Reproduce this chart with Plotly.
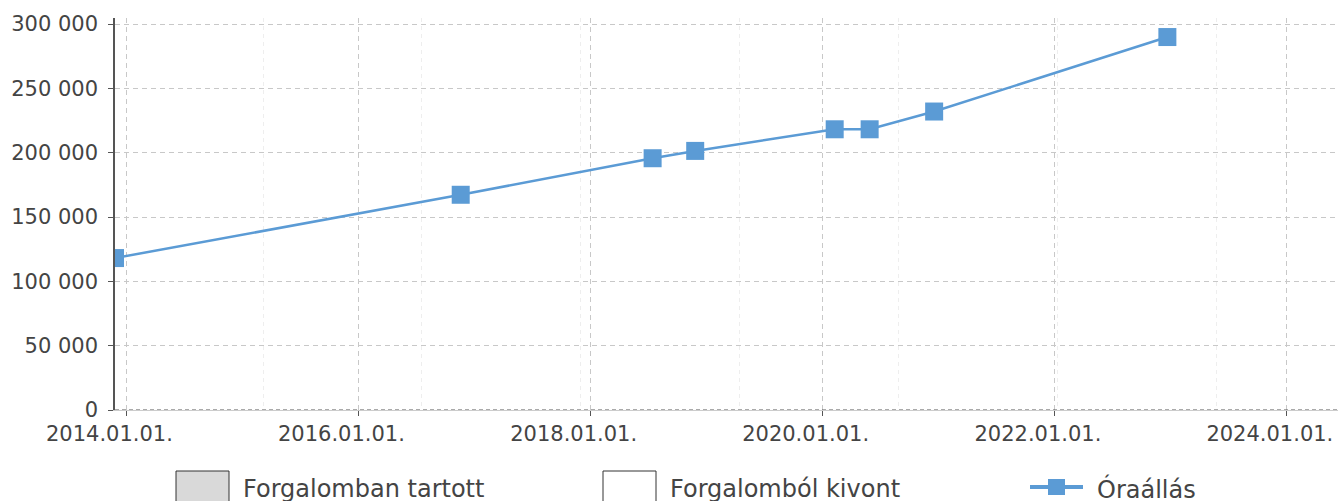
import plotly.graph_objects as go

# ---- data ----
dates = ["2013-11-26", "2016-11-18", "2018-07-15", "2018-11-26",
         "2020-02-08", "2020-05-28", "2020-12-17", "2022-12-21"]
odometer = [118100, 167300, 195700, 201400, 218200, 218200, 232000, 289900]
legend_labels = ["Forgalomban tartott", "Forgalomból kivont", "Óraállás"]

# ---- layout constants ----
W, H = 1340, 501
ML, MR, MT, MB = 115, 2, 18, 91
PW, PH = W - ML - MR, H - MT - MB
BLUE = "#5b9bd5"
TXT = "#444444"
FONT = "DejaVu Sans"


def px(x):
    return (x - ML) / PW


def py(y):
    return (H - MB - y) / PH


fig = go.Figure()
fig.add_trace(go.Scatter(
    x=dates, y=odometer, mode="lines+markers", name=legend_labels[2],
    line=dict(color=BLUE, width=2.5),
    marker=dict(symbol="square", size=18, color=BLUE),
    showlegend=False, cliponaxis=True,
))

shapes = [
    # dashed x baseline
    dict(type="line", xref="paper", yref="y", x0=0, x1=1, y0=0, y1=0,
         line=dict(color="#555555", width=1, dash="4px,3px"), layer="above"),
    # legend boxes
    dict(type="rect", xref="paper", yref="paper", x0=px(176), x1=px(229),
         y0=py(471), y1=py(520), fillcolor="#d9d9d9",
         line=dict(color="#333333", width=1)),
    dict(type="rect", xref="paper", yref="paper", x0=px(603), x1=px(656),
         y0=py(471), y1=py(520), fillcolor="white",
         line=dict(color="#333333", width=1)),
    dict(type="line", xref="paper", yref="paper", x0=px(1030), x1=px(1083),
         y0=py(487), y1=py(487), line=dict(color=BLUE, width=4)),
    dict(type="rect", xref="paper", yref="paper", x0=px(1048), x1=px(1065),
         y0=py(479), y1=py(495), fillcolor=BLUE, line=dict(width=0)),
]

annotations = []
for label, x in zip(legend_labels, [241, 668, 1095]):
    annotations.append(dict(
        text=label, xref="paper", yref="paper", x=px(x), y=py(489),
        xanchor="left", yanchor="middle", showarrow=False,
        font=dict(family=FONT, size=24, color=TXT),
    ))

fig.update_layout(
    width=W, height=H,
    margin=dict(l=ML, r=MR, t=MT, b=MB, autoexpand=False),
    paper_bgcolor="white", plot_bgcolor="white",
    separators=", ",
    font=dict(family=FONT, size=21, color=TXT),
    shapes=shapes, annotations=annotations,
    showlegend=False,
    xaxis=dict(
        type="date", range=["2013-11-26", "2024-06-10"], automargin=False,
        tick0="2014-01-01", dtick="M24", tickformat="%Y.%m.%d.",
        ticklabelshift=-17,
        showgrid=True, gridcolor="#c8c8c8", griddash="5px,4px", gridwidth=1,
        ticks="outside", ticklen=5, tickcolor="#555555",
        showline=True, linecolor="#cccccc", linewidth=1,
        zeroline=False,
        minor=dict(showgrid=True, gridcolor="#eeeeee", griddash="4px,4px",
                   tick0="2015-03-07", dtick=500 * 86400000, ticks=""),
    ),
    yaxis=dict(
        range=[0, 304700], tick0=0, dtick=50000, tickformat=",.0f",
        automargin=False, ticklabelstandoff=6,
        showgrid=True, gridcolor="#c8c8c8", griddash="5px,4px", gridwidth=1,
        ticks="outside", ticklen=5, tickcolor="#555555",
        showline=True, linecolor="#555555", linewidth=1.5,
        zeroline=False,
    ),
)

fig.write_html(
    "out.html",
    config={"displayModeBar": False},
    post_script="document.body.style.margin='0';document.body.style.overflow='hidden';",
)
